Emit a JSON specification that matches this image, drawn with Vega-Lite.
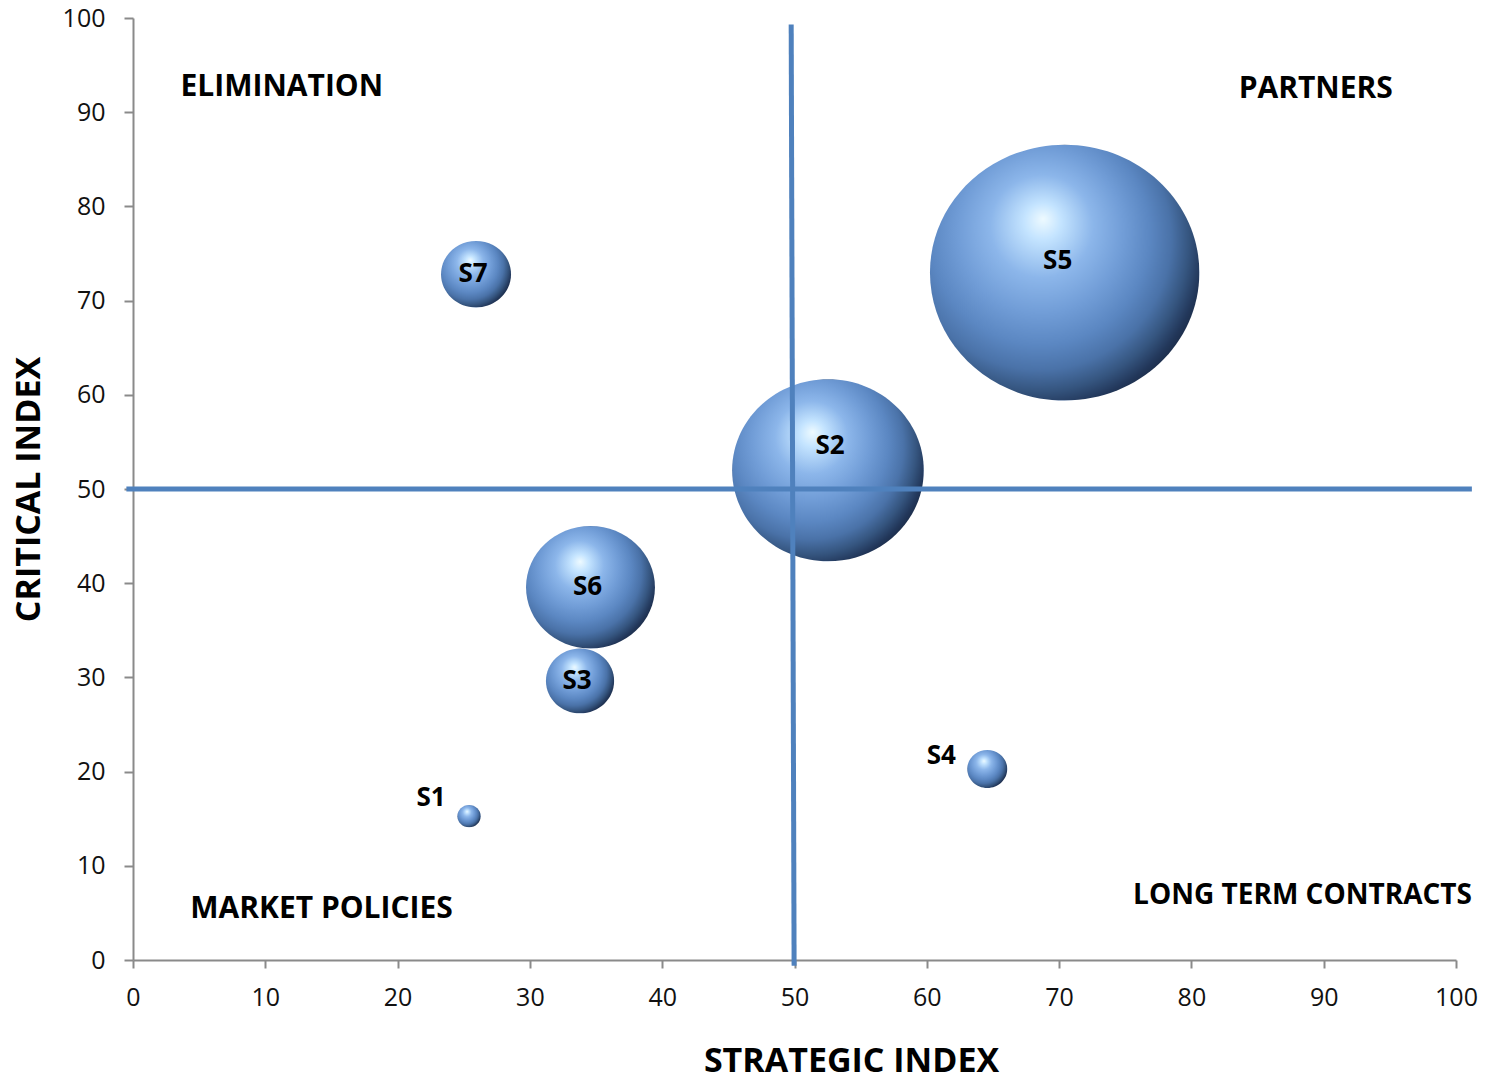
{
  "$schema": "https://vega.github.io/schema/vega-lite/v6.json",
  "width": 1323,
  "height": 942,
  "autosize": {"type": "none"},
  "padding": {"left": 133, "top": 18, "right": 35, "bottom": 116},
  "background": "white",
  "config": {
    "view": {"stroke": null},
    "font": "Open Sans",
    "axis": {
      "grid": false,
      "domainColor": "#8a8a8a",
      "domainWidth": 2,
      "tickColor": "#8a8a8a",
      "tickWidth": 2,
      "labelFont": "Open Sans",
      "labelFontSize": 25,
      "labelColor": "#111111",
      "labelFlush": false,
      "labelOverlap": false,
      "titleFont": "Open Sans",
      "titleFontSize": 34,
      "titleFontWeight": "bold",
      "titleColor": "#000000"
    }
  },
  "datasets": {
    "suppliers": [
      {"name": "S1", "strategic": 25.4, "critical": 15.27, "weight": 0.75},
      {"name": "S2", "strategic": 52.53, "critical": 51.98, "weight": 50.6},
      {"name": "S3", "strategic": 33.79, "critical": 29.63, "weight": 6.4},
      {"name": "S4", "strategic": 64.57, "critical": 20.28, "weight": 2.2},
      {"name": "S5", "strategic": 70.42, "critical": 72.97, "weight": 100},
      {"name": "S6", "strategic": 34.58, "critical": 39.56, "weight": 22.9},
      {"name": "S7", "strategic": 25.93, "critical": 72.8, "weight": 6.75}
    ],
    "dividers": [
      {"x0": 49.75, "y0": 99.3, "x1": 49.97, "y1": -0.6},
      {"x0": -0.5, "y0": 50, "x1": 101.2, "y1": 50}
    ],
    "quadrants": [
      {"label": "ELIMINATION", "x": 11.25, "y": 91.73},
      {"label": "PARTNERS", "x": 89.4, "y": 91.5},
      {"label": "MARKET POLICIES", "x": 14.25, "y": 4.43},
      {"label": "LONG TERM CONTRACTS", "x": 88.4, "y": 5.9}
    ]
  },
  "layer": [
    {
      "data": {"name": "suppliers"},
      "mark": {
        "type": "point",
        "shape": "M -1 0 A 1 0.95 0 1 0 1 0 A 1 0.95 0 1 0 -1 0 Z",
        "filled": true,
        "opacity": 1,
        "strokeWidth": 0,
        "fill": {
          "gradient": "radial",
          "x1": 0.42, "y1": 0.3, "r1": 0,
          "x2": 0.4, "y2": 0.4, "r2": 0.68,
          "stops": [
            {"offset": 0, "color": "#eefaff"},
            {"offset": 0.1, "color": "#c4e4ff"},
            {"offset": 0.28, "color": "#8cb6ea"},
            {"offset": 0.45, "color": "#719dd7"},
            {"offset": 0.6, "color": "#5b87c2"},
            {"offset": 0.72, "color": "#4a72a8"},
            {"offset": 0.82, "color": "#35557f"},
            {"offset": 0.9, "color": "#22375a"},
            {"offset": 1, "color": "#141f33"}
          ]
        }
      },
      "encoding": {
        "x": {
          "field": "strategic",
          "type": "quantitative",
          "title": "STRATEGIC INDEX",
          "scale": {"domain": [0, 100], "nice": false, "zero": false},
          "axis": {
            "values": [0, 10, 20, 30, 40, 50, 60, 70, 80, 90, 100],
            "tickSize": 8,
            "labelPadding": 17,
            "titleX": 718,
            "titleY": 111,
            "titleAlign": "center",
            "titleBaseline": "alphabetic"
          }
        },
        "y": {
          "field": "critical",
          "type": "quantitative",
          "title": "CRITICAL INDEX",
          "scale": {"domain": [0, 100], "nice": false, "zero": false},
          "axis": {
            "values": [0, 10, 20, 30, 40, 50, 60, 70, 80, 90, 100],
            "tickSize": 9,
            "labelPadding": 19,
            "titleX": -94,
            "titleY": 471,
            "titleAngle": 270,
            "titleAlign": "center",
            "titleBaseline": "alphabetic"
          }
        },
        "size": {
          "field": "weight",
          "type": "quantitative",
          "scale": {"domain": [0, 100], "range": [0, 72576]},
          "legend": null
        }
      }
    },
    {
      "data": {"name": "dividers"},
      "mark": {"type": "rule", "color": "#4f81bd", "strokeWidth": 5},
      "encoding": {
        "x": {"field": "x0", "type": "quantitative", "title": "STRATEGIC INDEX"},
        "x2": {"field": "x1"},
        "y": {"field": "y0", "type": "quantitative", "title": "CRITICAL INDEX"},
        "y2": {"field": "y1"}
      }
    },
    {
      "data": {"name": "quadrants"},
      "transform": [{"filter": {"field": "label", "oneOf": ["ELIMINATION", "PARTNERS", "MARKET POLICIES"]}}],
      "mark": {"type": "text", "font": "Open Sans", "fontSize": 30, "fontWeight": "bold", "color": "#000000", "align": "center", "baseline": "alphabetic"},
      "encoding": {
        "x": {"field": "x", "type": "quantitative", "title": "STRATEGIC INDEX"},
        "y": {"field": "y", "type": "quantitative", "title": "CRITICAL INDEX"},
        "text": {"field": "label"}
      }
    },
    {
      "data": {"name": "quadrants"},
      "transform": [{"filter": {"field": "label", "equal": "LONG TERM CONTRACTS"}}],
      "mark": {"type": "text", "font": "Open Sans", "fontSize": 28, "fontWeight": "bold", "color": "#000000", "align": "center", "baseline": "alphabetic"},
      "encoding": {
        "x": {"field": "x", "type": "quantitative", "title": "STRATEGIC INDEX"},
        "y": {"field": "y", "type": "quantitative", "title": "CRITICAL INDEX"},
        "text": {"field": "label"}
      }
    },
    {
      "data": {"name": "suppliers"},
      "transform": [{"filter": {"field": "name", "oneOf": ["S3", "S6", "S7"]}}],
      "mark": {"type": "text", "font": "Open Sans", "fontSize": 26, "fontWeight": "bold", "color": "#000000", "align": "center", "baseline": "alphabetic", "dx": -3, "dy": 8},
      "encoding": {
        "x": {"field": "strategic", "type": "quantitative", "title": "STRATEGIC INDEX"},
        "y": {"field": "critical", "type": "quantitative", "title": "CRITICAL INDEX"},
        "text": {"field": "name"}
      }
    },
    {
      "data": {"name": "suppliers"},
      "transform": [{"filter": {"field": "name", "equal": "S5"}}],
      "mark": {"type": "text", "font": "Open Sans", "fontSize": 26, "fontWeight": "bold", "color": "#000000", "align": "center", "baseline": "alphabetic", "dx": -7, "dy": -4},
      "encoding": {
        "x": {"field": "strategic", "type": "quantitative", "title": "STRATEGIC INDEX"},
        "y": {"field": "critical", "type": "quantitative", "title": "CRITICAL INDEX"},
        "text": {"field": "name"}
      }
    },
    {
      "data": {"name": "suppliers"},
      "transform": [{"filter": {"field": "name", "equal": "S2"}}],
      "mark": {"type": "text", "font": "Open Sans", "fontSize": 26, "fontWeight": "bold", "color": "#000000", "align": "center", "baseline": "alphabetic", "dx": 2, "dy": -16},
      "encoding": {
        "x": {"field": "strategic", "type": "quantitative", "title": "STRATEGIC INDEX"},
        "y": {"field": "critical", "type": "quantitative", "title": "CRITICAL INDEX"},
        "text": {"field": "name"}
      }
    },
    {
      "data": {"name": "suppliers"},
      "transform": [{"filter": {"field": "name", "equal": "S4"}}],
      "mark": {"type": "text", "font": "Open Sans", "fontSize": 26, "fontWeight": "bold", "color": "#000000", "align": "center", "baseline": "alphabetic", "dx": -46, "dy": -5},
      "encoding": {
        "x": {"field": "strategic", "type": "quantitative", "title": "STRATEGIC INDEX"},
        "y": {"field": "critical", "type": "quantitative", "title": "CRITICAL INDEX"},
        "text": {"field": "name"}
      }
    },
    {
      "data": {"name": "suppliers"},
      "transform": [{"filter": {"field": "name", "equal": "S1"}}],
      "mark": {"type": "text", "font": "Open Sans", "fontSize": 26, "fontWeight": "bold", "color": "#000000", "align": "center", "baseline": "alphabetic", "dx": -38, "dy": -10},
      "encoding": {
        "x": {"field": "strategic", "type": "quantitative", "title": "STRATEGIC INDEX"},
        "y": {"field": "critical", "type": "quantitative", "title": "CRITICAL INDEX"},
        "text": {"field": "name"}
      }
    }
  ]
}
